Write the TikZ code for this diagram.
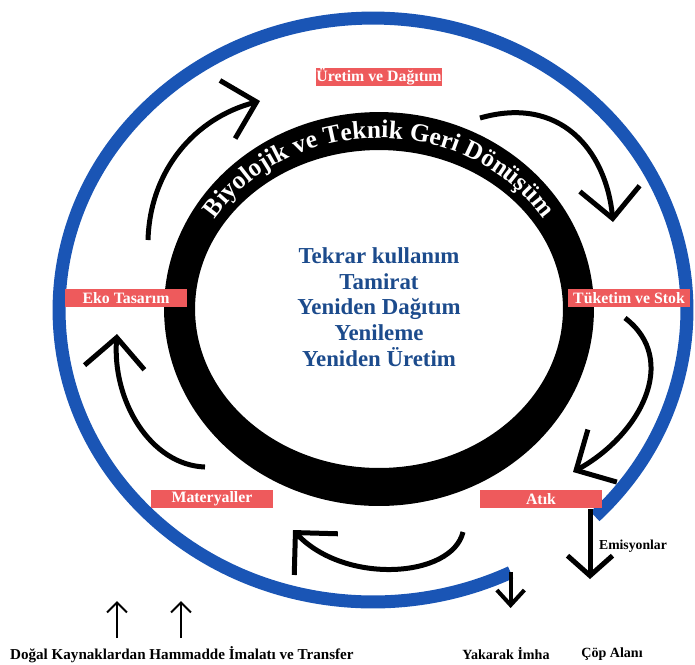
\documentclass[tikz,border=0pt]{standalone}
\usepackage{fontspec}
\setmainfont{Liberation Serif}
\usetikzlibrary{arrows.meta,decorations.text}
\definecolor{ringblue}{HTML}{1A55B5}
\definecolor{labelred}{HTML}{EE5A5C}
\definecolor{textblue}{HTML}{1C4B8C}
\begin{document}
\begin{tikzpicture}[x=0.02cm,y=0.02cm,
  lbl/.style={fill=labelred, text=white, font=\bfseries\fontsize{9}{10}\selectfont, minimum width=2.44cm, minimum height=0.37cm, inner sep=0pt},
  cyc/.style={line width=0.1cm, -{Straight Barb[length=0.6cm,width=1.2cm]}},
  smallarrow/.style={line width=0.04cm, -{Straight Barb[length=0.2cm,width=0.4cm]}},
  downarrow/.style={line width=0.08cm, -{Straight Barb[length=0.3cm,width=0.55cm]}},
  bigdown/.style={line width=0.1cm, -{Straight Barb[length=0.4cm,width=0.9cm]}},
  btm/.style={font=\bfseries\fontsize{8}{9}\selectfont, inner sep=1pt}]
\useasboundingbox (0,0) rectangle (695,-664);

% blue open ring
\draw[ringblue, line width=0.26cm] (373,-310) ++(-45:6.28cm and 5.84cm)
  arc[start angle=-45, end angle=296, x radius=6.28cm, y radius=5.84cm];
\path (373,-310) ++(296:6.28cm and 5.84cm) coordinate (bEnd);

% black ring
\fill[black, even odd rule] (379,-309) ellipse [x radius=4.3cm, y radius=3.94cm]
  (379,-309) ellipse [x radius=3.68cm, y radius=3.18cm];

% title on ring
\path[decorate, decoration={text along path, text align=center,
  text={|\fontsize{14.5}{16}\selectfont\bfseries\color{white}|Biyolojik ve Teknik Geri Dönüşüm}}]
  (379,-309) ++(160:3.86cm and 3.42cm)
  arc[start angle=160, end angle=20, x radius=3.86cm, y radius=3.42cm];

% centre text
\node[text=textblue, font=\bfseries\fontsize{13}{14.7}\selectfont, align=center] (reuse) at (379,-307)
  {Tekrar kullanım\\Tamirat\\Yeniden Dağıtım\\Yenileme\\Yeniden Üretim};

% cycle arrows
\coordinate (a1s) at (148,-240); \coordinate (a1e) at (260,-101);
\coordinate (a2s) at (480,-118); \coordinate (a2e) at (613,-222);
\coordinate (a3s) at (625,-318); \coordinate (a3e) at (573,-472);
\coordinate (a4s) at (463,-532); \coordinate (a4e) at (293,-530);
\coordinate (a5s) at (205,-467); \coordinate (a5e) at (117,-334);
\draw[cyc] (a1s) .. controls (150,-170) and (195,-118) .. (a1e);
\draw[cyc] (a2s) .. controls (560,-95) and (606,-150) .. (a2e);
\draw[cyc] (a3s) .. controls (680,-360) and (640,-435) .. (a3e);
\draw[cyc] (a4s) .. controls (452,-578) and (345,-585) .. (a4e);
\draw[cyc] (a5s) .. controls (150,-465) and (112,-400) .. (a5e);

% labels
\node[lbl] (uretim) at (379,-77) {Üretim ve Dağıtım};
\node[lbl] (eko) at (126,-298) {Eko Tasarım};
\node[lbl] (tuketim) at (629,-298) {Tüketim ve Stok};
\node[lbl] (materyal) at (212,-499) {Materyaller};
\node[lbl] (atik) at (541,-499) {Atık};

% bottom texts
\node[btm, anchor=west, font=\bfseries\fontsize{8.6}{9}\selectfont] (dogal) at (8,-655) {Doğal Kaynaklardan Hammadde İmalatı ve Transfer};
\node[btm] (yakarak) at (506,-654) {Yakarak İmha};
\node[btm] (cop) at (612,-654) {Çöp Alanı};
\node[btm, anchor=west, font=\bfseries\fontsize{7.8}{9}\selectfont] (emis) at (597,-546) {Emisyonlar};

% outflow / inflow arrows
\coordinate (u1s) at (117,-638); \coordinate (u1e) at (117,-601);
\coordinate (u2s) at (181,-638); \coordinate (u2e) at (181,-601);
\draw[smallarrow] (u1s) -- (u1e);
\draw[smallarrow] (u2s) -- (u2e);
\coordinate (yakTip) at (bEnd |- 0,-608);
\draw[downarrow] (bEnd) -- (yakTip);
\coordinate (emS) at (590,-509); \coordinate (emE) at (590,-579);
\draw[bigdown] (emS) -- (emE);
\end{tikzpicture}
\end{document}
